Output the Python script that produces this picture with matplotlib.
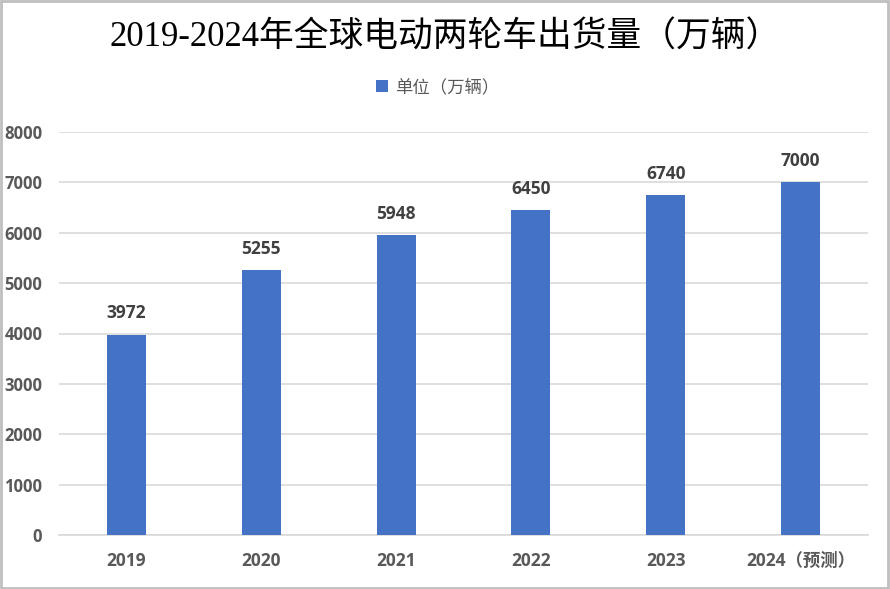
import matplotlib
matplotlib.use("Agg")
import matplotlib.pyplot as plt
from matplotlib.patches import Rectangle
import numpy as np

categories = ["2019", "2020", "2021", "2022", "2023", "2024（预测）"]
values = [3972, 5255, 5948, 6450, 6740, 7000]
yticks = [0, 1000, 2000, 3000, 4000, 5000, 6000, 7000, 8000]
title = "2019-2024年全球电动两轮车出货量（万辆）"
legend_label = "单位（万辆）"

bar_color = "#4472C4"
text_gray = "#595959"
grid_gray = "#D9D9D9"
lab_font = ["Open Sans", "Noto Sans CJK SC", "DejaVu Sans"]

fig = plt.figure(figsize=(8.9, 5.89), dpi=100)
ax = fig.add_axes([59/890, 1-535/589, (868-59)/890, (535-132)/589])

x = np.arange(len(categories))
bars = ax.bar(x, values, width=0.29, color=bar_color, zorder=3, label=legend_label)

ax.set_xlim(-0.5, len(categories)-0.5)
ax.set_ylim(0, 8000)
ax.set_yticks(yticks)
ax.set_yticklabels([str(t) for t in yticks], fontfamily=lab_font, fontweight="bold",
                   fontsize=12, color=text_gray)
ax.set_xticks(x)
ax.set_xticklabels(categories, fontfamily=lab_font, fontweight="bold",
                   fontsize=12.5, color=text_gray)
ax.tick_params(axis="both", length=0)
ax.tick_params(axis="y", pad=12)
ax.tick_params(axis="x", pad=12)
ax.grid(axis="y", color=grid_gray, linewidth=1.2, zorder=0)
for s in ["top", "right", "left"]:
    ax.spines[s].set_visible(False)
ax.spines["bottom"].set_color(grid_gray)
ax.spines["bottom"].set_linewidth(1.2)

for xi, v in zip(x, values):
    ax.annotate(str(v), (xi, v), xytext=(0, 9), textcoords="offset points",
                ha="center", va="bottom", fontfamily=lab_font, fontweight="bold",
                fontsize=12.5, color="#404040")

fig.text(0.5, 1-38/589, title, ha="center", va="center", fontsize=25,
         fontfamily=["Liberation Serif", "Noto Sans CJK SC"], color="black")

leg = fig.legend(handles=[bars], labels=[legend_label], loc="center",
                 bbox_to_anchor=(438/890, 1-87/589), frameon=False,
                 prop={"family": ["Noto Sans CJK SC"], "size": 12.5},
                 handlelength=0.7, handleheight=0.7, handletextpad=0.4)
for t in leg.get_texts():
    t.set_color(text_gray)

fig.patches.append(Rectangle((0.001, 0.001), 0.997, 0.997, transform=fig.transFigure,
                             fill=False, edgecolor="#BFBFBF", linewidth=2))

fig.savefig("out.png", dpi=100)
